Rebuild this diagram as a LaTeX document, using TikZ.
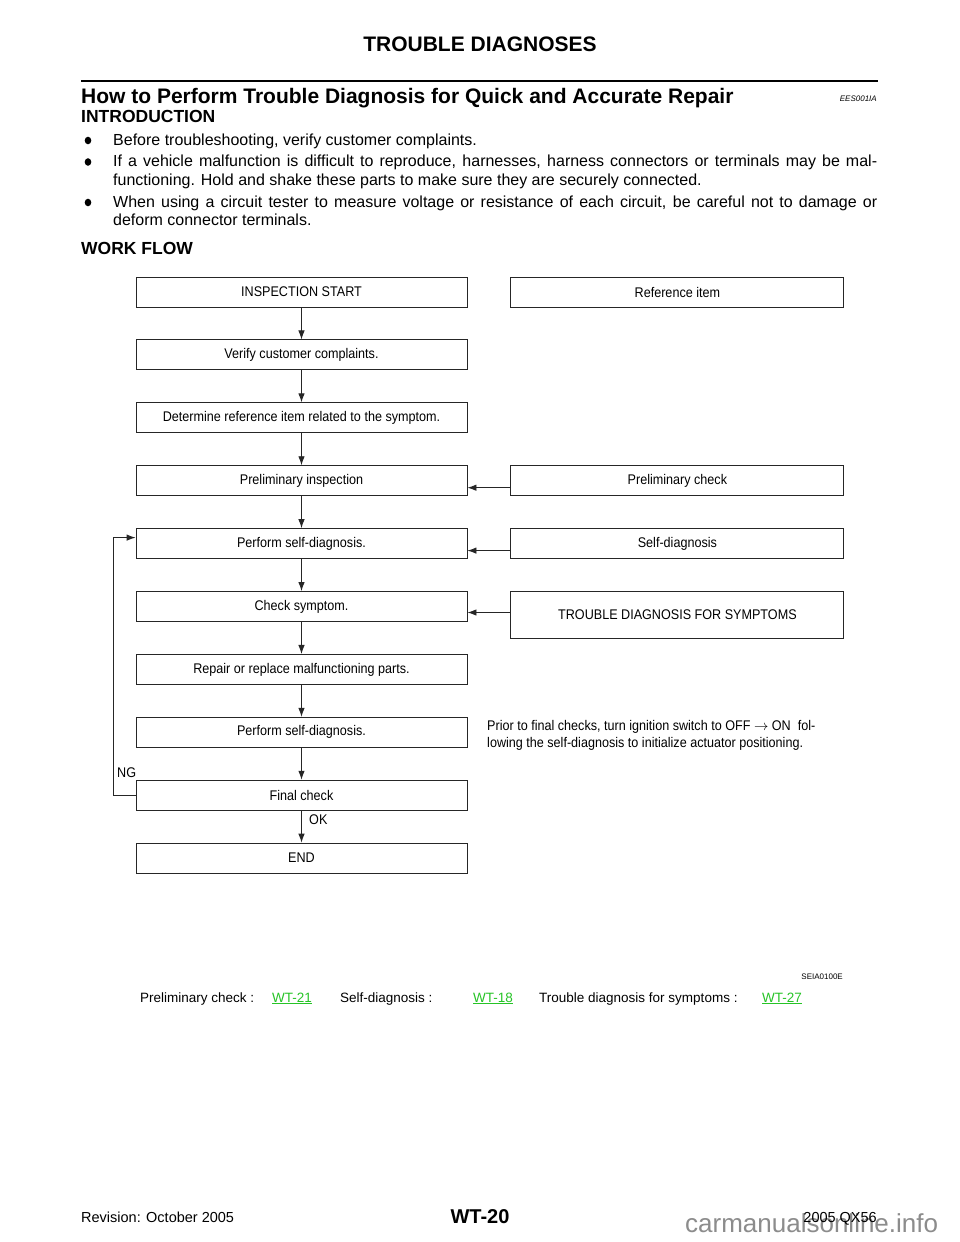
\documentclass[tikz,border=0pt]{standalone}
\usepackage{fontspec}
\setmainfont{Liberation Sans}
\newfontfamily\chartfont[FakeStretch=0.9]{Liberation Sans}
\usetikzlibrary{positioning,arrows.meta}
\definecolor{linkgreen}{RGB}{38,196,38}
\definecolor{markgray}{RGB}{140,140,140}

\begin{document}
\begin{tikzpicture}
      [x=1pt,y=-1pt
    % стили блоков схемы
      ,flowbox/.style={draw=black!85,line width=.9pt,minimum width=331pt,minimum height=30pt,inner sep=0pt,font=\chartfont\fontsize{14}{16}\selectfont}
      ,refbox/.style={flowbox,minimum width=333pt}
      ,arr/.style={draw=black!85,line width=.9pt,-{Latex[length=9pt,width=6.5pt]}}
    % стили надписей
      ,txt/.style={inner sep=0pt,font=\fontsize{16}{18}\selectfont}
      ,hd/.style={inner sep=0pt,font=\bfseries\fontsize{21}{24}\selectfont}
      ,sub/.style={inner sep=0pt,font=\bfseries\fontsize{17.5}{20}\selectfont}
      ,lbl/.style={inner sep=0pt,font=\chartfont\fontsize{14}{17.5}\selectfont}
      ,small/.style={inner sep=0pt,font=\fontsize{13.5}{16}\selectfont}
      ,foot/.style={inner sep=0pt,font=\fontsize{14.5}{17}\selectfont}
      ,tiny/.style={inner sep=0pt,font=\fontsize{8}{9}\selectfont}
      ,link/.style={small,text=linkgreen}
      ]
    % поля страницы
        \fill[white] (0,0) rectangle (960,1242);
        \useasboundingbox (0,0) rectangle (960,1242);

    % шапка страницы
        \node[hd,anchor=base] (head) at (480,51.5) {TROUBLE DIAGNOSES};
        \draw[line width=2pt] (81,81) -- (878,81);
        \node[hd,anchor=base west] (title) at (81,103.5) {How to Perform Trouble Diagnosis for Quick and Accurate Repair};
        \node[tiny,anchor=base east,font=\itshape\fontsize{8}{9}\selectfont] (code) at (877,101) {EES001IA};
        \node[sub,anchor=base west] (intro) at (81,122) {INTRODUCTION};

        \foreach \y in {140.5,162,202.5}
            \fill (88,\y) ellipse (3.3pt and 3.8pt);
        \node[txt,anchor=base west] (bla) at (113,145) {Before troubleshooting, verify customer complaints.};
        \node[txt,anchor=base west] (blb) at (113,166.5) {\makebox[764pt][s]{If a vehicle malfunction is difficult to reproduce, harnesses, harness connectors or terminals may be mal-}};
        \node[txt,anchor=base west] (blc) at (113,185) {functioning. Hold and shake these parts to make sure they are securely connected.};
        \node[txt,anchor=base west] (bld) at (113,207) {\makebox[764pt][s]{When using a circuit tester to measure voltage or resistance of each circuit, be careful not to damage or}};
        \node[txt,anchor=base west] (ble) at (113,225) {deform connector terminals.};

        \node[sub,anchor=base west] (wflow) at (81,254) {WORK FLOW};

    % основная цепочка
        \node[flowbox] (start) at (301.5,292) {INSPECTION START};
        \node[flowbox,below=32pt of start] (verify) {Verify customer complaints.};
        \node[flowbox,below=32pt of verify] (determ) {Determine reference item related to the symptom.};
        \node[flowbox,below=32pt of determ] (prelim) {Preliminary inspection};
        \node[flowbox,below=32pt of prelim] (selfa) {Perform self-diagnosis.};
        \node[flowbox,below=32pt of selfa] (symp) {Check symptom.};
        \node[flowbox,below=32pt of symp] (repair) {Repair or replace malfunctioning parts.};
        \node[flowbox,below=32pt of repair] (selfb) {Perform self-diagnosis.};
        \node[flowbox,below=32pt of selfb] (final) {Final check};
        \node[flowbox,below=32pt of final] (fin) {END};

    % справочные блоки
        \node[refbox,right=43pt of start] (refitem) {Reference item};
        \node[refbox,right=43pt of prelim] (pchk) {Preliminary check};
        \node[refbox,right=43pt of selfa] (sdiag) {Self-diagnosis};
        \node[refbox,minimum height=47pt,right=43pt of symp.north east,anchor=north west] (tsymp) {TROUBLE DIAGNOSIS FOR SYMPTOMS};

        \foreach \a/\b in {start/verify,verify/determ,determ/prelim,prelim/selfa,selfa/symp,symp/repair,repair/selfb,selfb/final,final/fin}
            \draw[arr] (\a) -- (\b);
        \draw[arr] ([yshift=-7pt]pchk.west) -- ([yshift=-7pt]prelim.east);
        \draw[arr] ([yshift=-7pt]sdiag.west) -- ([yshift=-7pt]selfa.east);
        \draw[arr] ([yshift=-6pt]symp.east -| tsymp.west) -- ([yshift=-6pt]symp.east);
        \draw[arr] (final.west) -- ++(-22,0) |- ([yshift=6pt]selfa.west);

        \node[lbl,anchor=west] (ng) at (117,773) {NG};
        \node[lbl,anchor=west] (ok) at (309,820) {OK};
        \node[lbl,anchor=west,align=left] (note) at (487,735.5) {Prior to final checks, turn ignition switch to OFF $\rightarrow$ ON\ \ fol-\\lowing the self-diagnosis to initialize actuator positioning.};

    % ссылки под схемой
        \node[tiny,anchor=base east] (fig) at (843,979) {SEIA0100E};
        \node[small,anchor=base west] (rpc) at (140,1002) {Preliminary check :};
        \node[link,anchor=base west] (lpc) at (272,1002) {\underline{WT-21}};
        \node[small,anchor=base west] (rsd) at (340,1002) {Self-diagnosis :};
        \node[link,anchor=base west] (lsd) at (473,1002) {\underline{WT-18}};
        \node[small,anchor=base west] (rts) at (539,1002) {Trouble diagnosis for symptoms :};
        \node[link,anchor=base west] (lts) at (762,1002) {\underline{WT-27}};

    % подвал
        \node[foot,anchor=base west] (rev) at (81,1222) {Revision: October 2005};
        \node[inner sep=0pt,anchor=base,font=\bfseries\fontsize{20}{22}\selectfont] (page) at (480,1223) {WT-20};
        \node[inner sep=0pt,anchor=base west,text=markgray,font=\fontsize{26}{28}\selectfont] (mark) at (685,1232) {carmanualsonline.info};
        \node[foot,anchor=base east] (model) at (877,1222) {2005 QX56};
\end{tikzpicture}
\end{document}
